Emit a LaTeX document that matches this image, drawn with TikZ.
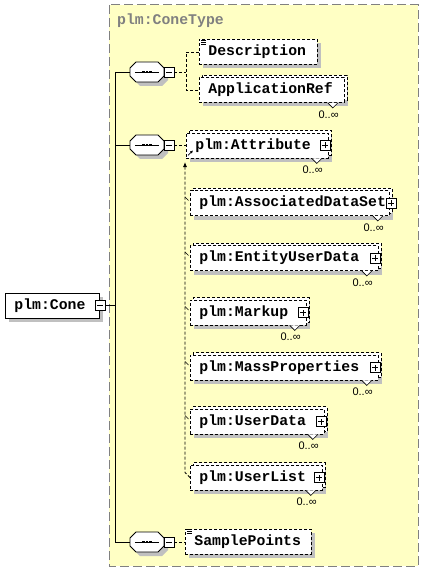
\documentclass[tikz,border=0pt]{standalone}
\usepackage{fontspec}
\setmonofont{Liberation Mono}
\newfontfamily\cardfont{Liberation Sans}
\usetikzlibrary{arrows.meta}
\definecolor{bgyellow}{HTML}{FFFFC4}
\definecolor{shadowgray}{HTML}{C0C0C0}
\definecolor{framegray}{HTML}{808080}
\newcommand{\eltlbl}[2]{\makebox[#1][l]{\hspace{9pt}#2}}
\tikzset{
  eltfont/.style={font=\ttfamily\bfseries\fontsize{14.8pt}{16pt}\selectfont},
  eltbox/.style={eltfont, draw, fill=white, line width=0.8pt, inner xsep=0pt, inner ysep=0pt,
     minimum height=25pt, anchor=west,
     preaction={fill=shadowgray, draw=none, transform canvas={shift={(4pt,-4pt)}}}},
  optbox/.style={dash pattern=on 3pt off 2pt},
  multibox/.style={preaction={draw, fill=white, line width=0.8pt, dash pattern=on 3pt off 2pt,
     transform canvas={shift={(2.5pt,2.5pt)}}}},
  pmbox/.style={draw, fill=white, line width=0.6pt, minimum size=10pt, inner sep=0pt},
  minusbox/.style={pmbox, path picture={\draw[line width=0.6pt]
     ([xshift=-3pt]path picture bounding box.center) -- ([xshift=3pt]path picture bounding box.center);}},
  plusbox/.style={pmbox, path picture={\draw[line width=0.6pt]
     ([xshift=-3pt]path picture bounding box.center) -- ([xshift=3pt]path picture bounding box.center)
     ([yshift=-3pt]path picture bounding box.center) -- ([yshift=3pt]path picture bounding box.center);}},
  cardlbl/.style={font=\cardfont\fontsize{11pt}{12pt}\selectfont, inner sep=0pt},
  conn/.style={line width=0.8pt},
  dconn/.style={line width=0.8pt, dash pattern=on 3pt off 2pt},
  seqsym/.pic={
    \fill[shadowgray, shift={(4,4)}] (-11,-10) -- (11,-10) -- (17,-4) -- (17,4) -- (11,10) -- (-11,10) -- (-17,4) -- (-17,-4) -- cycle;
    \draw[fill=white, line width=0.8pt] (-11,-10) -- (11,-10) -- (17,-4) -- (17,4) -- (11,10) -- (-11,10) -- (-17,4) -- (-17,-4) -- cycle;
    \draw[line width=0.8pt] (-12,0) -- (12,0);
    \fill (-4.7,-1.3) rectangle (-2.3,1.3);
    \fill (-1.2,-1.3) rectangle (1.2,1.3);
    \fill (2.3,-1.3) rectangle (4.7,1.3);
    \draw[fill=white, line width=0.6pt] (17,-5) rectangle (27,5);
    \draw[line width=0.6pt] (19,0) -- (25,0);
    \coordinate (-in) at (-17,0);
    \coordinate (-out) at (27,0);
  }
}
\newcommand{\cardmark}[1]{%
  \draw[fill=white, line width=0.6pt] ([xshift=-17pt]#1.south east) -- ++(5,5) -- ++(5,-5);
  \node[cardlbl, anchor=east] (#1-card) at ([shift={(-6pt,-11.5pt)}]#1.south east) {0..∞};}
\newcommand{\texticon}[1]{%
  \draw[line width=0.6pt] ([shift={(2pt,-1pt)}]#1.north west) -- ++(5,0)
    ([shift={(2pt,-3pt)}]#1.north west) -- ++(5,0)
    ([shift={(2pt,-5pt)}]#1.north west) -- ++(5,0);}
\begin{document}
\begin{tikzpicture}[x=1pt,y=-1pt]
\useasboundingbox (0,0) rectangle (425,572);
% frame of the complex type
\draw[fill=bgyellow, draw=framegray, line width=1pt, dash pattern=on 9pt off 4pt] (109,5) rectangle (418,566);
\node[eltfont, text=framegray, anchor=west, inner sep=0pt] (ctype) at (117,20.5) {plm:ConeType};

% root element
\node[eltbox] (cone) at (5,305.5) {\eltlbl{94pt}{plm:Cone}};
\node[minusbox] (coneM) at (cone.east) {};

% sequence symbols
\pic (s1) at (147,72) {seqsym};
\pic (s2) at (147,145) {seqsym};
\pic (s3) at (147,542) {seqsym};

% elements
\node[eltbox, optbox] (desc) at (199,52) {\eltlbl{118pt}{Description}};
\node[eltbox, optbox, multibox] (appref) at (199,90) {\eltlbl{145pt}{ApplicationRef}};
\node[eltbox, optbox, multibox] (attr) at (186,145.5) {\eltlbl{142pt}{plm:Attribute}};
\node[eltbox, optbox, multibox] (assoc) at (190,203) {\eltlbl{199pt}{plm:AssociatedDataSet}};
\node[eltbox, optbox, multibox] (eud) at (190,258) {\eltlbl{188pt}{plm:EntityUserData}};
\node[eltbox, optbox, multibox] (markup) at (190,312.5) {\eltlbl{116pt}{plm:Markup}};
\node[eltbox, optbox, multibox] (mass) at (190,367.5) {\eltlbl{188pt}{plm:MassProperties}};
\node[eltbox, optbox, multibox] (udata) at (190,421.5) {\eltlbl{134pt}{plm:UserData}};
\node[eltbox, optbox, multibox] (ulist) at (190,477.5) {\eltlbl{132pt}{plm:UserList}};
\node[eltbox, optbox] (sample) at (185,541.5) {\eltlbl{126pt}{SamplePoints}};

% expand boxes
\node[plusbox] (attrP) at ([xshift=-4pt]attr.east) {};
\node[plusbox] (assocP) at ([xshift=1pt]assoc.east) {};
\node[plusbox] (eudP) at ([xshift=-4pt]eud.east) {};
\node[plusbox] (markupP) at ([xshift=-4pt]markup.east) {};
\node[plusbox] (massP) at ([xshift=-4pt]mass.east) {};
\node[plusbox] (udataP) at ([xshift=-4pt]udata.east) {};
\node[plusbox] (ulistP) at ([xshift=-4pt]ulist.east) {};

% cardinalities
\cardmark{appref}
\cardmark{attr}
\cardmark{assoc}
\cardmark{eud}
\cardmark{markup}
\cardmark{mass}
\cardmark{udata}
\cardmark{ulist}

% text content icons
\texticon{desc}
\texticon{sample}

% solid connectors
\coordinate (j1) at (115,72);
\coordinate (j3) at (115,542);
\draw[conn] (j1) -- (j3);
\draw[conn] (j1) -- (s1-in);
\draw[conn] (s2-in -| j1) -- (s2-in);
\draw[conn] (j3) -- (s3-in);
\draw[conn] (coneM.east) -- (coneM.east -| j1);

% dashed connectors
\coordinate (b1) at (186,72);
\draw[dconn] (s1-out) -- (b1);
\draw[dconn] (desc.west) -| (b1) |- (appref.west);
\draw[dconn] (s2-out) -- (s2-out -| attr.west);
\draw[dconn] (s3-out) -- (s3-out -| sample.west);

% substitution line
\coordinate (chTip) at (185,162);
\draw[dconn, -{Latex[length=5pt,width=4pt]}] (ulist.west) -- ++(-5,-5) -- (chTip);
\foreach \e in {assoc,eud,markup,mass,udata}
  \draw[line width=0.6pt] ([shift={(-5pt,6pt)}]\e.west) -- ++(3.5,3.5);
\draw[line width=0.6pt, -{Latex[length=3pt,width=3pt]}] ([shift={(2pt,3pt)}]attr.south west) -- ++(5,-5);
\end{tikzpicture}
\end{document}
